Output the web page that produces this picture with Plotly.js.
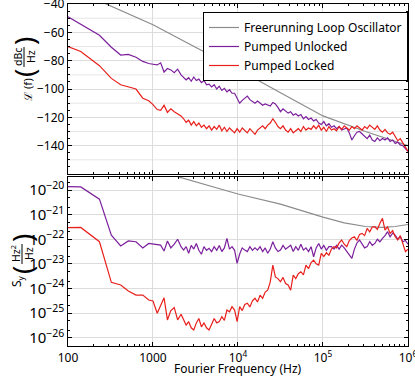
<!DOCTYPE html>
<html>
<head>
<meta charset="utf-8">
<script src="https://cdn.plot.ly/plotly-3.0.1.min.js"></script>
<style>
  html, body { margin: 0; padding: 0; background: #fff; }
  #plot-area { width: 415px; height: 376px; }
</style>
</head>
<body>
<div id="plot-area"></div>
<script>
// frequency grid, as log10(f / Hz)
const freqExp = [2.00, 2.15, 2.37, 2.51, 2.62, 2.71, 2.80, 2.88, 2.95, 3.00, 3.05, 3.09, 3.13, 3.17, 3.21, 3.25, 3.29, 3.33,
  3.36, 3.39, 3.42, 3.45, 3.48, 3.51, 3.54, 3.57, 3.60, 3.63,
  3.66, 3.69, 3.72, 3.75, 3.78, 3.81, 3.84, 3.87, 3.90, 3.93,
  3.96, 3.99, 4.02, 4.05, 4.08, 4.11, 4.14, 4.17, 4.20, 4.23,
  4.26, 4.29, 4.32, 4.35, 4.38, 4.41, 4.44, 4.47, 4.50, 4.53,
  4.56, 4.59, 4.62, 4.65, 4.68, 4.71, 4.74, 4.77, 4.80, 4.83,
  4.86, 4.89, 4.92, 4.95, 4.98, 5.01, 5.04, 5.07, 5.10, 5.13,
  5.16, 5.19, 5.22, 5.25, 5.28, 5.31, 5.34, 5.37, 5.40, 5.43,
  5.46, 5.49, 5.52, 5.55, 5.58, 5.61, 5.64, 5.67, 5.70, 5.73,
  5.76, 5.79, 5.82, 5.85, 5.88, 5.91, 5.94, 5.97, 6.00];

// L(f) in dBc/Hz
const phaseUnlocked = [-49, -54.5, -62, -70.5, -76, -75.5, -77.5, -80.5, -82, -82.5, -83, -81.5, -88, -85.5, -86.5, -88.5, -86, -90,
  -91.5, -93.5, -92, -94.5, -91.5, -94, -93, -95.5, -94, -97,
  -96.5, -98.5, -97, -100, -98, -101, -99.5, -102, -100.5, -103,
  -103, -106, -110, -108, -106.5, -105, -107.5, -109, -110, -108.5,
  -110, -111.5, -110.5, -111, -112, -109.5, -110.5, -113, -116, -114,
  -115.5, -117, -116, -118.5, -117.5, -119, -118, -121, -119.5, -121.5,
  -120.5, -122.5, -121.5, -124, -125, -123, -126, -124.5, -127, -126,
  -128, -126.5, -129, -128, -127.5, -131, -136, -133, -130.5, -130,
  -131.5, -133, -135, -132.5, -136, -137, -134.5, -136.5, -135, -136,
  -134.5, -137, -136, -138.5, -137.5, -139.5, -140, -142, -144];

const phaseLocked = [-70, -73.5, -83.5, -92.5, -97, -98.5, -100, -106.5, -108.3, -111, -114.5, -115, -111.5, -116.5, -114, -116, -117.5, -119,
  -121, -123.5, -122, -125.5, -123, -126, -124, -127, -125.5, -128,
  -126, -129, -126.5, -128.5, -125.5, -129.5, -127, -130, -127.5, -129,
  -131, -128, -130.5, -127.5, -129.5, -131, -128, -130, -132, -129,
  -127.5, -126, -128, -125.5, -124, -121, -123.5, -126.5, -128, -126,
  -129, -130.5, -128, -131, -129.5, -128, -130, -126.5, -129, -127.5,
  -128.5, -126, -128, -125.5, -129, -127, -130, -126.5, -129, -128,
  -129.5, -126.5, -128.5, -126, -127.5, -129, -126.5, -128, -126, -127.5,
  -129, -126.5, -128, -125.5, -127, -128.5, -126, -129, -130.5, -128.5,
  -131, -132, -130.5, -134, -136.5, -135, -138.5, -141, -144];

// S_y as log10(Hz^2/Hz)
const syUnlockedExp = [-19.86, -19.87, -20.37, -21.83, -22.27, -22.07, -22.1, -22.35, -22.17, -22.2, -22.24, -22.24, -22.48, -22.07, -22.35, -22.2, -22.0, -22.3,
  -22.44, -22.3, -22.57, -22.25, -22.4, -22.17, -22.45, -22.61, -22.3, -22.45,
  -22.37, -22.5, -22.3, -22.45, -22.25, -22.5, -22.35, -21.96, -22.4, -22.3,
  -22.45, -22.98, -22.6, -22.35, -22.44, -22.5, -22.3, -22.45, -22.35, -22.44,
  -22.3, -22.5, -22.35, -22.57, -22.4, -22.1, -22.35, -22.5, -22.44, -22.25,
  -22.4, -22.3, -22.24, -22.5, -22.3, -22.45, -22.2, -22.44, -22.35, -22.5,
  -22.3, -22.71, -22.35, -22.17, -22.4, -22.25, -22.45, -22.3, -22.3, -22.4,
  -22.25, -22.4, -22.24, -22.35, -22.5, -22.6, -22.78, -22.4, -22.15, -22.03,
  -22.2, -22.35, -22.3, -22.1, -22.25, -22.17, -22.0, -22.1, -21.96, -21.85,
  -21.69, -21.9, -21.75, -21.83, -22.0, -21.9, -22.1, -22.05, -22.2];

const syLockedExp = [-21.53, -21.52, -22.1, -23.75, -23.86, -24.1, -24.27, -24.27, -24.47, -24.51, -25.01, -24.7, -24.38, -25.28, -24.9, -24.78, -25.28, -25.05,
  -25.3, -25.49, -25.35, -25.6, -25.69, -25.4, -25.22, -25.56, -25.4, -25.6,
  -25.69, -25.45, -25.22, -25.4, -25.35, -25.15, -25.3, -24.88, -24.95, -24.74,
  -24.88, -25.35, -24.74, -24.9, -24.65, -24.6, -24.75, -24.5, -24.4, -24.55,
  -24.27, -24.4, -24.15, -24.07, -23.73, -23.05, -23.53, -23.6, -23.73, -23.55,
  -23.8, -23.86, -24.07, -23.46, -23.6, -23.4, -23.32, -23.45, -23.05, -23.2,
  -22.95, -22.85, -23.0, -23.05, -22.57, -22.7, -22.55, -22.65, -22.4, -22.3,
  -22.35, -22.15, -22.03, -22.2, -22.3, -22.05, -21.95, -21.9, -22.05, -21.8,
  -21.76, -21.85, -21.56, -21.7, -21.5, -21.49, -21.6, -21.35, -21.15, -21.63,
  -21.5, -21.76, -21.65, -21.9, -22.03, -21.85, -22.2, -22.5, -22.4];

// free running oscillator
const freeFreqExp = [2, 2.444, 3, 3.5, 4, 4.5, 5, 5.5, 5.75, 6];
const freePhase = [-28, -40, -54.6, -70.5, -86, -102.7, -119, -130, -135, -140];
const freeSyFreqExp = [2, 3, 3.5, 4, 4.5, 5, 5.25, 5.5, 5.7, 5.85, 6];
const freeSyExp = [-18.17, -19.17, -19.67, -20.16, -20.57, -21.1, -21.33, -21.48, -21.52, -21.48, -21.4];

const xTickVals = [100, 1000, 1e4, 1e5, 1e6];
const xTickText = ["100", "1000", "10<sup>4</sup>", "10<sup>5</sup>", "10<sup>6</sup>"];
const yTickVals = [-140, -120, -100, -80, -60, -40];

const seriesNames = ["Freerunning Loop Oscillator", "Pumped Unlocked", "Pumped Locked"];
const colors = ["#8c8c8c", "#7b1f9c", "#e8201c"];

const pow10 = a => a.map(v => Math.pow(10, v));
const freq = pow10(freqExp);

let minorX = [];
for (let d = 100; d < 1e6; d *= 10)
  for (let k = 2; k < 10; k++) minorX.push(d * k);
let minorY = [];
for (let v = -155; v < -40; v += 5) if (v % 20 !== 0) minorY.push(v);

// pixel -> paper helpers for the hand-made axis titles
const px = x => (x - 68) / 340;
const py = y => (346 - y) / 342;

let plots = [
  { x: pow10(freeFreqExp), y: freePhase, name: seriesNames[0], line: { color: colors[0], width: 1.2 } },
  { x: freq, y: phaseUnlocked, name: seriesNames[1], line: { color: colors[1], width: 1.2 } },
  { x: freq, y: phaseLocked, name: seriesNames[2], line: { color: colors[2], width: 1.2 } },
  { x: pow10(freeSyFreqExp), y: pow10(freeSyExp), xaxis: "x2", yaxis: "y2", showlegend: false, line: { color: colors[0], width: 1.2 } },
  { x: freq, y: pow10(syUnlockedExp), xaxis: "x2", yaxis: "y2", showlegend: false, line: { color: colors[1], width: 1.2 } },
  { x: freq, y: pow10(syLockedExp), xaxis: "x2", yaxis: "y2", showlegend: false, line: { color: colors[2], width: 1.2 } },
];
plots.forEach(p => { p.mode = "lines"; p.type = "scatter"; });

const frame = {
  showline: true, linecolor: "#000", linewidth: 1.2, mirror: "allticks",
  ticks: "inside", ticklen: 4, tickcolor: "#000", tickwidth: 1,
  gridcolor: "#dcdcdc", gridwidth: 1, zeroline: false,
  ticklabeloverflow: "allow",
};
const xAxisBase = Object.assign({}, frame, {
  type: "log", range: [2, 6.0005],
  tickmode: "array", tickvals: xTickVals, ticktext: xTickText,
  minor: { tickmode: "array", tickvals: minorX, ticks: "inside", ticklen: 2, tickcolor: "#000", showgrid: false },
});

let layout = {
  width: 415, height: 376,
  margin: { l: 68, r: 7, t: 4, b: 30 },
  paper_bgcolor: "#fff", plot_bgcolor: "#fff",
  font: { family: "Noto Sans, DejaVu Sans, sans-serif", size: 12, color: "#000" },
  showlegend: true,
  legend: {
    x: 1, xanchor: "right", y: py(12), yanchor: "top",
    bordercolor: "#000", borderwidth: 1, bgcolor: "#fff",
    font: { size: 12 }, tracegroupgap: 0, itemwidth: 30,
  },
  xaxis: Object.assign({}, xAxisBase, { anchor: "y", showticklabels: false }),
  xaxis2: Object.assign({}, xAxisBase, { anchor: "y2" }),
  yaxis: Object.assign({}, frame, {
    domain: [0.503, 1], range: [-160, -39.95], tickmode: "array", tickvals: yTickVals,
    minor: { tickmode: "array", tickvals: minorY, showgrid: false, ticks: "inside", ticklen: 2, tickcolor: "#000" },
  }),
  yaxis2: Object.assign({}, frame, {
    domain: [0, 0.494], type: "log", range: [-26.34, -19.47], dtick: 1, exponentformat: "power",
    minor: { dtick: "D2", ticks: "inside", ticklen: 2, tickcolor: "#000", showgrid: false },
  }),
  annotations: [
    { text: "Fourier Frequency (Hz)", x: 0.5, y: py(369), font: { size: 12 } },
    { text: "ℒ (f)", x: px(27), y: py(90), textangle: -90, font: { size: 11 } },
    { text: "dBc", x: px(18), y: py(57), textangle: -90, font: { size: 10.5 } },
    { text: "Hz", x: px(31), y: py(57), textangle: -90, font: { size: 10.5 } },
    { text: "(", x: px(24), y: py(73), textangle: -90, font: { size: 28 } },
    { text: ")", x: px(24), y: py(41), textangle: -90, font: { size: 28 } },
    { text: "S<sub>y</sub>", x: px(17), y: py(281), textangle: -90, font: { size: 12 } },
    { text: "Hz<sup>2</sup>", x: px(15), y: py(254), textangle: -90, font: { size: 10.5 } },
    { text: "Hz", x: px(29), y: py(254), textangle: -90, font: { size: 10.5 } },
    { text: "(", x: px(22), y: py(270), textangle: -90, font: { size: 28 } },
    { text: ")", x: px(22), y: py(238), textangle: -90, font: { size: 28 } },
  ].map(a => Object.assign({ xref: "paper", yref: "paper", showarrow: false, xanchor: "center", yanchor: "middle" }, a)),
  shapes: [
    { type: "line", xref: "paper", yref: "paper", x0: px(24), x1: px(24), y0: py(47), y1: py(67), line: { color: "#000", width: 1 } },
    { type: "line", xref: "paper", yref: "paper", x0: px(22), x1: px(22), y0: py(244), y1: py(264), line: { color: "#000", width: 1 } },
  ],
};

// dB grid every 10 as light lines, like the original
for (let v = -150; v < -40; v += 20)
  layout.shapes.push({ type: "line", xref: "paper", yref: "y", x0: 0, x1: 1, y0: v, y1: v, layer: "below", line: { color: "#e6e6e6", width: 1 } });

Plotly.newPlot("plot-area", plots, layout, { staticPlot: true });
</script>
</body>
</html>
